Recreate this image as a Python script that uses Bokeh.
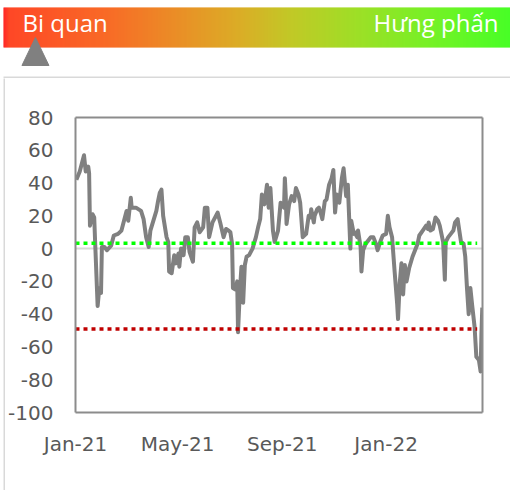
import numpy as np
import pandas as pd
from bokeh.plotting import figure
from bokeh.layouts import column, row
from bokeh.models import (Range1d, FixedTicker, DatetimeTickFormatter, Span, ColumnDataSource,
                          PrintfTickFormatter, LinearAxis)
from bokeh.core.properties import value
from bokeh.embed import file_html
from bokeh.resources import INLINE

# ---------------- data ----------------
DATES = [
    "2021-01-02", "2021-01-06", "2021-01-11", "2021-01-13", "2021-01-16", "2021-01-17", "2021-01-18",
    "2021-01-21", "2021-01-23", "2021-01-24", "2021-01-27", "2021-01-29", "2021-01-31", "2021-02-01",
    "2021-02-04", "2021-02-07", "2021-02-12", "2021-02-15", "2021-02-20", "2021-02-24", "2021-02-27",
    "2021-03-02", "2021-03-04", "2021-03-07", "2021-03-08", "2021-03-13", "2021-03-19", "2021-03-22",
    "2021-03-25", "2021-03-28", "2021-03-30", "2021-04-06", "2021-04-08", "2021-04-10", "2021-04-12",
    "2021-04-14", "2021-04-18", "2021-04-20", "2021-04-21", "2021-04-24", "2021-04-27", "2021-04-29",
    "2021-05-02", "2021-05-03", "2021-05-05", "2021-05-08", "2021-05-10", "2021-05-13", "2021-05-15",
    "2021-05-19", "2021-05-21", "2021-05-24", "2021-05-27", "2021-05-31", "2021-06-02", "2021-06-05",
    "2021-06-07", "2021-06-11", "2021-06-15", "2021-06-17", "2021-06-20", "2021-06-24", "2021-06-27",
    "2021-06-30", "2021-07-02", "2021-07-04", "2021-07-05", "2021-07-08", "2021-07-10", "2021-07-11",
    "2021-07-13", "2021-07-15", "2021-07-17", "2021-07-19", "2021-07-21", "2021-07-24", "2021-07-28",
    "2021-08-01", "2021-08-04", "2021-08-06", "2021-08-08", "2021-08-11", "2021-08-14", "2021-08-16",
    "2021-08-18", "2021-08-21", "2021-08-23", "2021-08-27", "2021-08-30", "2021-09-03", "2021-09-04",
    "2021-09-05", "2021-09-06", "2021-09-09", "2021-09-12", "2021-09-15", "2021-09-17", "2021-09-20",
    "2021-09-22", "2021-09-25", "2021-09-29", "2021-10-02", "2021-10-04", "2021-10-05", "2021-10-08",
    "2021-10-09", "2021-10-12", "2021-10-14", "2021-10-16", "2021-10-18", "2021-10-21", "2021-10-23",
    "2021-10-26", "2021-10-29", "2021-10-31", "2021-11-02", "2021-11-04", "2021-11-07", "2021-11-10",
    "2021-11-12", "2021-11-15", "2021-11-17", "2021-11-20", "2021-11-21", "2021-11-24", "2021-11-25",
    "2021-11-28", "2021-11-29", "2021-12-02", "2021-12-03", "2021-12-05", "2021-12-08", "2021-12-11",
    "2021-12-14", "2021-12-17", "2021-12-20", "2021-12-22", "2021-12-25", "2021-12-28", "2022-01-01",
    "2022-01-03", "2022-01-05", "2022-01-08", "2022-01-11", "2022-01-14", "2022-01-15", "2022-01-17",
    "2022-01-19", "2022-01-21", "2022-01-23", "2022-01-25", "2022-01-28", "2022-02-01", "2022-02-04",
    "2022-02-07", "2022-02-09", "2022-02-13", "2022-02-17", "2022-02-19", "2022-02-20", "2022-02-22",
    "2022-02-25", "2022-02-28", "2022-03-03", "2022-03-05", "2022-03-07", "2022-03-09", "2022-03-11",
    "2022-03-12", "2022-03-15", "2022-03-18", "2022-03-21", "2022-03-23", "2022-03-26", "2022-03-28",
    "2022-03-30", "2022-04-02", "2022-04-04", "2022-04-06", "2022-04-08", "2022-04-10", "2022-04-12",
    "2022-04-15", "2022-04-17", "2022-04-20", "2022-04-22", "2022-04-23", "2022-04-24",
]
VALUES = [
    42, 47, 57, 47, 50, 46, 14,
    21, 19, 5, -35, -24, -27, 1,
    1, -1, 2, 8, 9, 11, 17,
    23, 17, 31, 25, 25, 23, 18,
    7, 1, 11, 23, 29, 34, 36,
    20, 7, 4, -14, -15, -4, -9,
    -3, -11, 0, -4, 7, 7, -2,
    -8, 13, 16, 10, 13, 25, 25,
    7, 16, 20, 22, 16, 7, 12,
    11, 10, 3, -24, -25, -20, -51,
    -27, -11, -33, -10, -5, -4, 0,
    7, 14, 18, 33, 27, 39, 25,
    37, 11, 4, 11, 28, 25, 43,
    33, 15, 27, 32, 29, 37, 33,
    28, 7, 9, 20, 19, 24, 16,
    20, 24, 25, 22, 18, 29, 30,
    39, 43, 48, 22, 33, 28, 43,
    49, 32, 39, 0, 17, 9, 10,
    7, 11, 1, -14, -1, 3, 5,
    7, 7, 3, -1, 4, 8, 9,
    20, 13, 7, -14, -34, -43, -21,
    -9, -28, -10, -20, -12, -5, -1,
    3, 8, 11, 14, 12, 16, 11,
    12, 19, 17, 14, 9, 4, -19,
    4, 7, 9, 11, 16, 18, 11,
    4, 3, -5, -24, -40, -24, -34,
    -48, -66, -68, -75, -52, -36,
]
UPPER_LEVEL = 3.3
LOWER_LEVEL = -49
LEVEL_DATES = ["2021-01-01", "2022-04-18"]
Y_TICKS = [80, 60, 40, 20, 0, -20, -40, -60, -80, -100]
Y_MIN, Y_MAX = -100, 80
X_TICK_DATES = ["2021-01-01", "2021-05-01", "2021-09-01", "2022-01-01"]
X_START, X_END = "2021-01-01", "2022-04-24 06:00"
GAUGE_LEFT_LABEL = "Bi quan"
GAUGE_RIGHT_LABEL = "Hưng phấn"
GAUGE_POSITION = 0.063  # fraction along the sentiment bar


def bare(fig):
    fig.grid.visible = False
    fig.outline_line_color = None
    fig.frame_align = False
    return fig


# ---------------- header (sentiment gauge), page pixel coordinates ----------------
PW = 510
HDR_H = 78
hdr = bare(figure(width=PW, height=HDR_H, x_range=Range1d(0, PW), y_range=Range1d(HDR_H, 0),
                  output_backend="svg", toolbar_location=None, min_border=0,
                  x_axis_location=None, y_axis_location=None))
hdr.background_fill_color = "white"
hdr.border_fill_color = "white"

GX0, GX1 = 3, PW
GW = GX1 - GX0
stops = [(0.0, (255, 0, 0)), (0.012, (255, 40, 0)), (0.2, (248, 80, 0)), (0.35, (230, 125, 0)),
         (0.47, (212, 160, 0)), (0.57, (182, 192, 0)), (0.7, (140, 218, 0)), (0.85, (92, 240, 0)),
         (1.0, (40, 255, 0))]
sp = np.array([s[0] for s in stops])
sc = np.array([s[1] for s in stops], dtype=float)
lefts = GX0 + np.arange(GW, dtype=float)
t = (lefts - GX0 + 0.5) / GW
cols = []
for tt in t:
    r = np.interp(tt, sp, sc[:, 0]); g = np.interp(tt, sp, sc[:, 1]); b = np.interp(tt, sp, sc[:, 2])
    cols.append("#%02x%02x%02x" % (int(r), int(g), int(b)))
hdr.quad(left=lefts, right=lefts + 1.2, top=7, bottom=47, fill_color=cols, line_color=None)

hdr.text(x=[22], y=[21.5], text=[GAUGE_LEFT_LABEL], text_color="white",
         text_font=value("Open Sans"), text_font_size="24px", text_baseline="alphabetic",
         text_align="left")
hdr.text(x=[498], y=[21.5], text=[GAUGE_RIGHT_LABEL], text_color="white",
         text_font=value("Open Sans"), text_font_size="24px", text_baseline="alphabetic",
         text_align="right")

ax = GX0 + GAUGE_POSITION * GW
hdr.patch([ax - 13.5, ax, ax + 13.5], [65, 37, 65], fill_color="#808080", line_color="#808080")
# outer light-grey chart border (top edge)
hdr.quad(left=3, right=PW, top=76, bottom=78, fill_color="#d9d9d9", line_color=None)

# ---------------- left margin + border strip ----------------
MAIN_H = 490 - HDR_H
pad = bare(figure(width=3, height=MAIN_H, output_backend="svg", toolbar_location=None, min_border=0,
                  x_axis_location=None, y_axis_location=None))
pad.background_fill_color = "white"
pad.border_fill_color = "white"
bar = bare(figure(width=2, height=MAIN_H, output_backend="svg", toolbar_location=None, min_border=0,
                  x_axis_location=None, y_axis_location=None))
bar.background_fill_color = "#d9d9d9"
bar.border_fill_color = "#d9d9d9"

# ---------------- main chart ----------------
src = ColumnDataSource(dict(date=pd.to_datetime(DATES), val=VALUES))
p = bare(figure(width=PW - 5, height=MAIN_H, output_backend="svg", toolbar_location=None,
                x_axis_type="datetime",
                x_range=Range1d(pd.Timestamp(X_START), pd.Timestamp(X_END)),
                y_range=Range1d(Y_MIN, Y_MAX),
                min_border_left=69, min_border_right=28, min_border_top=39, min_border_bottom=78))
p.background_fill_color = "white"
p.border_fill_color = "white"

xa = p.below[0]
ya = p.left[0]
for a in (xa, ya):
    a.axis_line_color = "#8c8c8c"
    a.axis_line_width = 2
    a.major_tick_line_color = None
    a.minor_tick_line_color = None
    a.major_tick_out = 0
    a.minor_tick_out = 0
    a.major_label_text_font = "DejaVu Sans"
    a.major_label_text_font_size = "20px"
    a.major_label_text_color = "#595959"

ya.ticker = FixedTicker(ticks=Y_TICKS)
ya.formatter = PrintfTickFormatter(format="%d")
ya.major_label_standoff = 22
xa.ticker = FixedTicker(ticks=[pd.Timestamp(d).timestamp() * 1000 for d in X_TICK_DATES])
fmt = "%b-%y"
xa.formatter = DatetimeTickFormatter(milliseconds=fmt, seconds=fmt, minsec=fmt, minutes=fmt,
                                     hourmin=fmt, hours=fmt, days=fmt, months=fmt, years=fmt)
xa.major_label_standoff = 19

# frame lines on the top and right
for loc in ("right", "above"):
    extra = LinearAxis(ticker=FixedTicker(ticks=[]), major_label_text_font_size="0px",
                       major_label_standoff=0, major_tick_out=0, major_tick_in=0,
                       minor_tick_out=0, minor_tick_in=0,
                       axis_line_color="#8c8c8c", axis_line_width=2)
    p.add_layout(extra, loc)

p.add_layout(Span(location=0, dimension="width", line_color="#d9d9d9", line_width=2, level="underlay"))

p.line("date", "val", source=src, line_color="#808080", line_width=4, line_join="round")

ld = pd.to_datetime(LEVEL_DATES)
p.line(ld, [UPPER_LEVEL, UPPER_LEVEL], line_color="#00ff00", line_width=3.5, line_dash="4 4")
p.line(ld, [LOWER_LEVEL, LOWER_LEVEL], line_color="#c00000", line_width=3.5, line_dash="4 4")

layout = column(hdr, row(pad, bar, p, spacing=0), spacing=0)

open("out.html", "w").write(file_html(layout, INLINE))
